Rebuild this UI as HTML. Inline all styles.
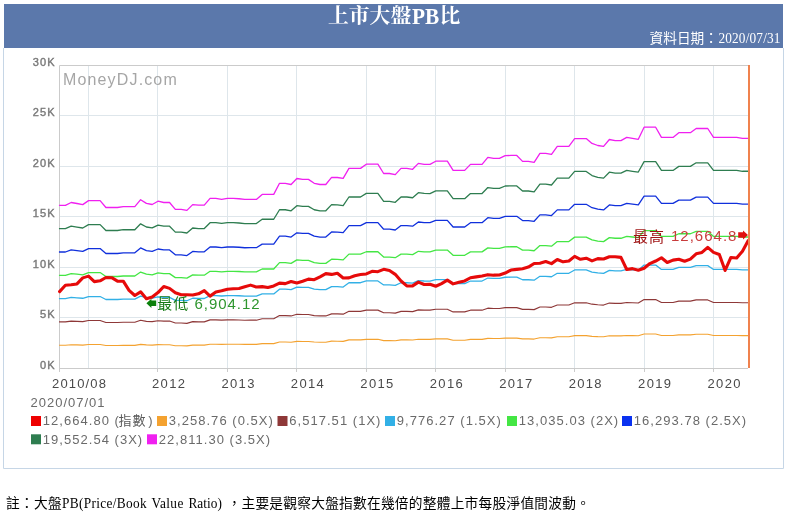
<!DOCTYPE html>
<html><head><meta charset="utf-8"><title>PB</title>
<style>
html,body{margin:0;padding:0;background:#fff;width:789px;height:514px;overflow:hidden}
svg text{font-family:"Liberation Sans","Noto Sans CJK TC",sans-serif}
svg text.sf{font-family:"Liberation Serif","Noto Sans CJK TC",serif}
svg text.tf{font-family:"Liberation Serif","Noto Serif CJK SC",serif}
</style></head><body>
<svg width="789" height="514" viewBox="0 0 789 514" style="position:absolute;left:0;top:0;will-change:transform">
<rect x="4" y="4" width="779" height="44" fill="#5b78ab"/>
<path d="M3.5 48V468.5H783.5V48" fill="none" stroke="#c6d6e6" stroke-width="1"/>
<path d="M59 115.5H749M59 166.5H749M59 216.5H749M59 267.5H749M59 317.5H749M88.5 65V368M157.5 65V368M227.5 65V368M296.5 65V368M366.5 65V368M435.5 65V368M505.5 65V368M574.5 65V368M644.5 65V368M713.5 65V368" fill="none" stroke="#dee6eb" stroke-width="1"/>
<path d="M59.5 372V65.5H748M59 368.5H748" fill="none" stroke="#cbcbcb" stroke-width="1"/>
<path d="M157.5 368V372M227.5 368V372M296.5 368V372M366.5 368V372M435.5 368V372M505.5 368V372M574.5 368V372M644.5 368V372M713.5 368V372" fill="none" stroke="#cbcbcb" stroke-width="1"/>
<text x="63" y="84.7" font-size="16" fill="#a6a6a6" letter-spacing="1.15">MoneyDJ.com</text>
<polyline points="59.6,345.2 65.39,345.2 71.17,344.79 76.96,344.93 82.75,345.09 88.53,344.51 94.32,344.51 100.11,344.51 105.9,345.5 111.68,345.5 117.47,345.5 123.26,345.37 129.04,345.37 134.83,345.37 140.62,344.39 146.41,344.91 152.19,345.07 157.98,344.6 163.77,344.79 169.55,344.79 175.34,345.77 181.13,345.77 186.91,345.91 192.7,345.09 198.49,345.17 204.28,345.17 210.06,344.2 215.85,344.2 221.64,344.33 227.42,344.2 233.21,344.2 239,344.25 244.78,344.35 250.57,344.34 256.36,344.34 262.14,343.63 267.93,343.63 273.72,343.63 279.51,342.04 285.29,342.04 291.08,342.21 296.87,341.36 302.65,341.49 308.44,341.49 314.23,342.04 320.02,342.21 325.8,342.21 331.59,341.19 337.38,341.21 343.16,341.34 348.95,339.91 354.74,339.91 360.52,339.91 366.31,339.31 372.1,339.31 377.88,339.31 383.67,340.64 389.46,340.64 395.25,340.8 401.03,339.91 406.82,339.91 412.61,340.04 418.39,339.2 424.18,339.33 429.97,339.34 435.75,338.89 441.54,338.89 447.33,338.89 453.12,340.2 458.9,340.2 464.69,340.2 470.48,339.34 476.26,339.34 482.05,339.34 487.84,338.34 493.62,338.49 499.41,338.49 505.2,338.09 510.99,338.06 516.77,338.06 522.56,338.91 528.35,338.91 534.13,339.06 539.92,337.77 545.71,337.77 551.5,337.91 557.28,336.77 563.07,336.77 568.86,336.77 574.64,335.66 580.43,335.66 586.22,335.66 592,336.34 597.79,336.64 603.58,336.78 609.37,335.79 615.15,335.94 620.94,335.94 626.73,335.49 632.51,335.63 638.3,335.76 644.09,334.03 649.87,334.03 655.66,334.03 661.45,335.49 667.24,335.49 673.02,335.49 678.81,334.81 684.6,334.81 690.38,334.81 696.17,334.21 701.96,334.21 707.74,334.21 713.53,335.49 719.32,335.49 725.11,335.49 730.89,335.49 736.68,335.49 742.47,335.63 748.25,335.63" fill="none" stroke="#f4a230" stroke-width="1.15" stroke-linejoin="round" stroke-linecap="square"/>
<polyline points="59.6,321.9 65.39,321.9 71.17,321.07 76.96,321.36 82.75,321.67 88.53,320.53 94.32,320.53 100.11,320.53 105.9,322.5 111.68,322.5 117.47,322.5 123.26,322.24 129.04,322.24 134.83,322.24 140.62,320.27 146.41,321.33 152.19,321.64 157.98,320.7 163.77,321.07 169.55,321.07 175.34,323.04 181.13,323.04 186.91,323.33 192.7,321.67 198.49,321.84 204.28,321.84 210.06,319.9 215.85,319.9 221.64,320.16 227.42,319.9 233.21,319.9 239,320 244.78,320.2 250.57,320.19 256.36,320.19 262.14,318.76 267.93,318.76 273.72,318.76 279.51,315.59 285.29,315.59 291.08,315.93 296.87,314.21 302.65,314.47 308.44,314.47 314.23,315.59 320.02,315.93 325.8,315.93 331.59,313.89 337.38,313.93 343.16,314.19 348.95,311.33 354.74,311.33 360.52,311.33 366.31,310.13 372.1,310.13 377.88,310.13 383.67,312.79 389.46,312.79 395.25,313.1 401.03,311.33 406.82,311.33 412.61,311.59 418.39,309.9 424.18,310.16 429.97,310.19 435.75,309.27 441.54,309.27 447.33,309.27 453.12,311.9 458.9,311.9 464.69,311.9 470.48,310.19 476.26,310.19 482.05,310.19 487.84,308.19 493.62,308.47 499.41,308.47 505.2,307.67 510.99,307.63 516.77,307.63 522.56,309.33 528.35,309.33 534.13,309.61 539.92,307.04 545.71,307.04 551.5,307.33 557.28,305.04 563.07,305.04 568.86,305.04 574.64,302.81 580.43,302.81 586.22,302.81 592,304.19 597.79,304.79 603.58,305.06 609.37,303.07 615.15,303.39 620.94,303.39 626.73,302.47 632.51,302.76 638.3,303.01 644.09,299.56 649.87,299.56 655.66,299.56 661.45,302.47 667.24,302.47 673.02,302.47 678.81,301.13 684.6,301.13 690.38,301.13 696.17,299.93 701.96,299.93 707.74,299.93 713.53,302.47 719.32,302.47 725.11,302.47 730.89,302.47 736.68,302.47 742.47,302.76 748.25,302.76" fill="none" stroke="#8e3838" stroke-width="1.15" stroke-linejoin="round" stroke-linecap="square"/>
<polyline points="59.6,298.6 65.39,298.6 71.17,297.36 76.96,297.79 82.75,298.26 88.53,296.54 94.32,296.54 100.11,296.54 105.9,299.5 111.68,299.5 117.47,299.5 123.26,299.11 129.04,299.11 134.83,299.11 140.62,296.16 146.41,297.74 152.19,298.21 157.98,296.8 163.77,297.36 169.55,297.36 175.34,300.31 181.13,300.31 186.91,300.74 192.7,298.26 198.49,298.51 204.28,298.51 210.06,295.6 215.85,295.6 221.64,295.99 227.42,295.6 233.21,295.6 239,295.75 244.78,296.05 250.57,296.03 256.36,296.03 262.14,293.89 267.93,293.89 273.72,293.89 279.51,289.13 285.29,289.13 291.08,289.64 296.87,287.07 302.65,287.46 308.44,287.46 314.23,289.13 320.02,289.64 325.8,289.64 331.59,286.58 337.38,286.64 343.16,287.03 348.95,282.74 354.74,282.74 360.52,282.74 366.31,280.94 372.1,280.94 377.88,280.94 383.67,284.93 389.46,284.93 395.25,285.4 401.03,282.74 406.82,282.74 412.61,283.13 418.39,280.6 424.18,280.99 429.97,281.03 435.75,279.66 441.54,279.66 447.33,279.66 453.12,283.6 458.9,283.6 464.69,283.6 470.48,281.03 476.26,281.03 482.05,281.03 487.84,278.03 493.62,278.46 499.41,278.46 505.2,277.26 510.99,277.19 516.77,277.19 522.56,279.74 528.35,279.74 534.13,280.17 539.92,276.31 545.71,276.31 551.5,276.74 557.28,273.31 563.07,273.31 568.86,273.31 574.64,269.97 580.43,269.97 586.22,269.97 592,272.03 597.79,272.93 603.58,273.34 609.37,270.36 615.15,270.83 620.94,270.83 626.73,269.46 632.51,269.89 638.3,270.27 644.09,265.09 649.87,265.09 655.66,265.09 661.45,269.46 667.24,269.46 673.02,269.46 678.81,267.44 684.6,267.44 690.38,267.44 696.17,265.64 701.96,265.64 707.74,265.64 713.53,269.46 719.32,269.46 725.11,269.46 730.89,269.46 736.68,269.46 742.47,269.89 748.25,269.89" fill="none" stroke="#32b0e6" stroke-width="1.3" stroke-linejoin="round" stroke-linecap="square"/>
<polyline points="59.6,275.3 65.39,275.3 71.17,273.64 76.96,274.21 82.75,274.84 88.53,272.56 94.32,272.56 100.11,272.56 105.9,276.5 111.68,276.5 117.47,276.5 123.26,275.99 129.04,275.99 134.83,275.99 140.62,272.04 146.41,274.16 152.19,274.79 157.98,272.9 163.77,273.64 169.55,273.64 175.34,277.59 181.13,277.59 186.91,278.16 192.7,274.84 198.49,275.19 204.28,275.19 210.06,271.3 215.85,271.3 221.64,271.81 227.42,271.3 233.21,271.3 239,271.5 244.78,271.9 250.57,271.87 256.36,271.87 262.14,269.01 267.93,269.01 273.72,269.01 279.51,262.67 285.29,262.67 291.08,263.36 296.87,259.93 302.65,260.44 308.44,260.44 314.23,262.67 320.02,263.36 325.8,263.36 331.59,259.27 337.38,259.36 343.16,259.87 348.95,254.16 354.74,254.16 360.52,254.16 366.31,251.76 372.1,251.76 377.88,251.76 383.67,257.07 389.46,257.07 395.25,257.7 401.03,254.16 406.82,254.16 412.61,254.67 418.39,251.3 424.18,251.81 429.97,251.87 435.75,250.04 441.54,250.04 447.33,250.04 453.12,255.3 458.9,255.3 464.69,255.3 470.48,251.87 476.26,251.87 482.05,251.87 487.84,247.87 493.62,248.44 499.41,248.44 505.2,246.84 510.99,246.76 516.77,246.76 522.56,250.16 528.35,250.16 534.13,250.73 539.92,245.59 545.71,245.59 551.5,246.16 557.28,241.59 563.07,241.59 568.86,241.59 574.64,237.13 580.43,237.13 586.22,237.13 592,239.87 597.79,241.07 603.58,241.61 609.37,237.64 615.15,238.27 620.94,238.27 626.73,236.44 632.51,237.01 638.3,237.53 644.09,230.61 649.87,230.61 655.66,230.61 661.45,236.44 667.24,236.44 673.02,236.44 678.81,233.76 684.6,233.76 690.38,233.76 696.17,231.36 701.96,231.36 707.74,231.36 713.53,236.44 719.32,236.44 725.11,236.44 730.89,236.44 736.68,236.44 742.47,237.01 748.25,237.01" fill="none" stroke="#44e644" stroke-width="1.3" stroke-linejoin="round" stroke-linecap="square"/>
<polyline points="59.6,252 65.39,252 71.17,249.93 76.96,250.64 82.75,251.43 88.53,248.57 94.32,248.57 100.11,248.57 105.9,253.5 111.68,253.5 117.47,253.5 123.26,252.86 129.04,252.86 134.83,252.86 140.62,247.93 146.41,250.57 152.19,251.36 157.98,249 163.77,249.93 169.55,249.93 175.34,254.86 181.13,254.86 186.91,255.57 192.7,251.43 198.49,251.86 204.28,251.86 210.06,247 215.85,247 221.64,247.64 227.42,247 233.21,247 239,247.25 244.78,247.75 250.57,247.71 256.36,247.71 262.14,244.14 267.93,244.14 273.72,244.14 279.51,236.21 285.29,236.21 291.08,237.07 296.87,232.79 302.65,233.43 308.44,233.43 314.23,236.21 320.02,237.07 325.8,237.07 331.59,231.96 337.38,232.07 343.16,232.71 348.95,225.57 354.74,225.57 360.52,225.57 366.31,222.57 372.1,222.57 377.88,222.57 383.67,229.21 389.46,229.21 395.25,230 401.03,225.57 406.82,225.57 412.61,226.21 418.39,222 424.18,222.64 429.97,222.71 435.75,220.43 441.54,220.43 447.33,220.43 453.12,227 458.9,227 464.69,227 470.48,222.71 476.26,222.71 482.05,222.71 487.84,217.71 493.62,218.43 499.41,218.43 505.2,216.43 510.99,216.32 516.77,216.32 522.56,220.57 528.35,220.57 534.13,221.29 539.92,214.86 545.71,214.86 551.5,215.57 557.28,209.86 563.07,209.86 568.86,209.86 574.64,204.29 580.43,204.29 586.22,204.29 592,207.71 597.79,209.21 603.58,209.89 609.37,204.93 615.15,205.71 620.94,205.71 626.73,203.43 632.51,204.14 638.3,204.79 644.09,196.14 649.87,196.14 655.66,196.14 661.45,203.43 667.24,203.43 673.02,203.43 678.81,200.07 684.6,200.07 690.38,200.07 696.17,197.07 701.96,197.07 707.74,197.07 713.53,203.43 719.32,203.43 725.11,203.43 730.89,203.43 736.68,203.43 742.47,204.14 748.25,204.14" fill="none" stroke="#1030dc" stroke-width="1.3" stroke-linejoin="round" stroke-linecap="square"/>
<polyline points="59.6,228.7 65.39,228.7 71.17,226.21 76.96,227.07 82.75,228.01 88.53,224.59 94.32,224.59 100.11,224.59 105.9,230.5 111.68,230.5 117.47,230.5 123.26,229.73 129.04,229.73 134.83,229.73 140.62,223.81 146.41,226.99 152.19,227.93 157.98,225.1 163.77,226.21 169.55,226.21 175.34,232.13 181.13,232.13 186.91,232.99 192.7,228.01 198.49,228.53 204.28,228.53 210.06,222.7 215.85,222.7 221.64,223.47 227.42,222.7 233.21,222.7 239,223 244.78,223.6 250.57,223.56 256.36,223.56 262.14,219.27 267.93,219.27 273.72,219.27 279.51,209.76 285.29,209.76 291.08,210.79 296.87,205.64 302.65,206.41 308.44,206.41 314.23,209.76 320.02,210.79 325.8,210.79 331.59,204.66 337.38,204.79 343.16,205.56 348.95,196.99 354.74,196.99 360.52,196.99 366.31,193.39 372.1,193.39 377.88,193.39 383.67,201.36 389.46,201.36 395.25,202.3 401.03,196.99 406.82,196.99 412.61,197.76 418.39,192.7 424.18,193.47 429.97,193.56 435.75,190.81 441.54,190.81 447.33,190.81 453.12,198.7 458.9,198.7 464.69,198.7 470.48,193.56 476.26,193.56 482.05,193.56 487.84,187.56 493.62,188.41 499.41,188.41 505.2,186.01 510.99,185.89 516.77,185.89 522.56,190.99 528.35,190.99 534.13,191.84 539.92,184.13 545.71,184.13 551.5,184.99 557.28,178.13 563.07,178.13 568.86,178.13 574.64,171.44 580.43,171.44 586.22,171.44 592,175.56 597.79,177.36 603.58,178.17 609.37,172.21 615.15,173.16 620.94,173.16 626.73,170.41 632.51,171.27 638.3,172.04 644.09,161.67 649.87,161.67 655.66,161.67 661.45,170.41 667.24,170.41 673.02,170.41 678.81,166.39 684.6,166.39 690.38,166.39 696.17,162.79 701.96,162.79 707.74,162.79 713.53,170.41 719.32,170.41 725.11,170.41 730.89,170.41 736.68,170.41 742.47,171.27 748.25,171.27" fill="none" stroke="#2e7d50" stroke-width="1.3" stroke-linejoin="round" stroke-linecap="square"/>
<polyline points="59.6,205.4 65.39,205.4 71.17,202.5 76.96,203.5 82.75,204.6 88.53,200.6 94.32,200.6 100.11,200.6 105.9,207.5 111.68,207.5 117.47,207.5 123.26,206.6 129.04,206.6 134.83,206.6 140.62,199.7 146.41,203.4 152.19,204.5 157.98,201.2 163.77,202.5 169.55,202.5 175.34,209.4 181.13,209.4 186.91,210.4 192.7,204.6 198.49,205.2 204.28,205.2 210.06,198.4 215.85,198.4 221.64,199.3 227.42,198.4 233.21,198.4 239,198.75 244.78,199.45 250.57,199.4 256.36,199.4 262.14,194.4 267.93,194.4 273.72,194.4 279.51,183.3 285.29,183.3 291.08,184.5 296.87,178.5 302.65,179.4 308.44,179.4 314.23,183.3 320.02,184.5 325.8,184.5 331.59,177.35 337.38,177.5 343.16,178.4 348.95,168.4 354.74,168.4 360.52,168.4 366.31,164.2 372.1,164.2 377.88,164.2 383.67,173.5 389.46,173.5 395.25,174.6 401.03,168.4 406.82,168.4 412.61,169.3 418.39,163.4 424.18,164.3 429.97,164.4 435.75,161.2 441.54,161.2 447.33,161.2 453.12,170.4 458.9,170.4 464.69,170.4 470.48,164.4 476.26,164.4 482.05,164.4 487.84,157.4 493.62,158.4 499.41,158.4 505.2,155.6 510.99,155.45 516.77,155.45 522.56,161.4 528.35,161.4 534.13,162.4 539.92,153.4 545.71,153.4 551.5,154.4 557.28,146.4 563.07,146.4 568.86,146.4 574.64,138.6 580.43,138.6 586.22,138.6 592,143.4 597.79,145.5 603.58,146.45 609.37,139.5 615.15,140.6 620.94,140.6 626.73,137.4 632.51,138.4 638.3,139.3 644.09,127.2 649.87,127.2 655.66,127.2 661.45,137.4 667.24,137.4 673.02,137.4 678.81,132.7 684.6,132.7 690.38,132.7 696.17,128.5 701.96,128.5 707.74,128.5 713.53,137.4 719.32,137.4 725.11,137.4 730.89,137.4 736.68,137.4 742.47,138.4 748.25,138.4" fill="none" stroke="#f020f0" stroke-width="1.3" stroke-linejoin="round" stroke-linecap="square"/>
<polyline points="59.6,291.58 65.39,285.3 71.17,284.8 76.96,283.94 82.75,277.88 88.53,276.13 94.32,281.64 100.11,280.8 105.9,277.52 111.68,277.71 117.47,281.11 123.26,281.19 129.04,290.31 134.83,295.52 140.62,291.86 146.41,298.77 152.19,297.07 157.98,292.58 163.77,286.47 169.55,288.38 175.34,292.73 181.13,294.75 186.91,294.81 192.7,295.07 198.49,293.79 204.28,290.58 210.06,296.12 215.85,291.94 221.64,290.74 227.42,289.21 233.21,288.73 239,288.52 244.78,286.75 250.57,285.13 256.36,287.07 262.14,286.61 267.93,287.48 273.72,285.94 279.51,283.15 285.29,283.59 291.08,281.52 296.87,283.03 302.65,281.24 308.44,279.12 314.23,279.71 320.02,276.83 325.8,273.63 331.59,274.41 337.38,273.19 343.16,277.93 348.95,277.85 354.74,275.71 360.52,274.5 366.31,273.94 372.1,271.32 377.88,271.68 383.67,269.32 389.46,270.52 395.25,274.34 401.03,280.98 406.82,285.93 412.61,285.87 418.39,282.1 424.18,284.46 429.97,284.29 435.75,286.23 441.54,283.55 447.33,280.18 453.12,283.88 458.9,282.29 464.69,280.97 470.48,277.76 476.26,276.9 482.05,275.91 487.84,274.67 493.62,275.17 499.41,275.04 505.2,273.08 510.99,270.02 516.77,269.4 522.56,268.79 528.35,267.09 534.13,263.51 539.92,263.18 545.71,261.58 551.5,263.62 557.28,259.48 563.07,261.84 568.86,261.01 574.64,256.35 580.43,259.26 586.22,258.21 592,260.86 597.79,258.66 603.58,259.05 609.37,256.82 615.15,256.75 620.94,257.34 626.73,269.5 632.51,268.63 638.3,270.25 644.09,268.18 649.87,263.57 655.66,261.03 661.45,257.73 667.24,262.47 673.02,260.12 678.81,259.18 684.6,261.26 690.38,259.12 696.17,253.78 701.96,252.46 707.74,247.33 713.53,252.4 719.32,254.45 725.11,270.45 730.89,257.48 736.68,257.98 742.47,251.13 748.25,240.59" fill="none" stroke="#e60a0a" stroke-width="3.1" stroke-linejoin="round" stroke-linecap="round"/>
<rect x="748" y="65" width="2" height="303" fill="#f0824e"/>
<text x="55.6" y="65.5" font-size="11" fill="#7a7a7a" stroke="#7a7a7a" stroke-width="0.4" text-anchor="end" letter-spacing="1.1">30K</text>
<text x="55.6" y="115.5" font-size="11" fill="#7a7a7a" stroke="#7a7a7a" stroke-width="0.4" text-anchor="end" letter-spacing="1.1">25K</text>
<text x="55.6" y="166.5" font-size="11" fill="#7a7a7a" stroke="#7a7a7a" stroke-width="0.4" text-anchor="end" letter-spacing="1.1">20K</text>
<text x="55.6" y="216.5" font-size="11" fill="#7a7a7a" stroke="#7a7a7a" stroke-width="0.4" text-anchor="end" letter-spacing="1.1">15K</text>
<text x="55.6" y="267.5" font-size="11" fill="#7a7a7a" stroke="#7a7a7a" stroke-width="0.4" text-anchor="end" letter-spacing="1.1">10K</text>
<text x="55.6" y="317.5" font-size="11" fill="#7a7a7a" stroke="#7a7a7a" stroke-width="0.4" text-anchor="end" letter-spacing="1.1">5K</text>
<text x="55.6" y="368.5" font-size="11" fill="#7a7a7a" stroke="#7a7a7a" stroke-width="0.4" text-anchor="end" letter-spacing="1.1">0K</text>
<text x="52" y="387.5" font-size="13" fill="#4a4a4a" letter-spacing="1.15">2010/08</text>
<text x="151.98" y="387.5" font-size="13" fill="#4a4a4a" letter-spacing="1.35">2012</text>
<text x="221.42" y="387.5" font-size="13" fill="#4a4a4a" letter-spacing="1.35">2013</text>
<text x="290.87" y="387.5" font-size="13" fill="#4a4a4a" letter-spacing="1.35">2014</text>
<text x="360.31" y="387.5" font-size="13" fill="#4a4a4a" letter-spacing="1.35">2015</text>
<text x="429.75" y="387.5" font-size="13" fill="#4a4a4a" letter-spacing="1.35">2016</text>
<text x="499.2" y="387.5" font-size="13" fill="#4a4a4a" letter-spacing="1.35">2017</text>
<text x="568.64" y="387.5" font-size="13" fill="#4a4a4a" letter-spacing="1.35">2018</text>
<text x="638.09" y="387.5" font-size="13" fill="#4a4a4a" letter-spacing="1.35">2019</text>
<text x="707.53" y="387.5" font-size="13" fill="#4a4a4a" letter-spacing="1.35">2020</text>
<text x="30.5" y="406.7" font-size="13" fill="#6a6a6a" letter-spacing="1">2020/07/01</text>
<rect x="31" y="416" width="10" height="10" fill="#ee0000"/>
<text x="42.8" y="425.3" font-size="13" fill="#6a6a6a" letter-spacing="1.03">12,664.80 (</text>
<rect x="157" y="416" width="10" height="10" fill="#f4a230"/>
<text x="168.8" y="425.3" font-size="13" fill="#6a6a6a" letter-spacing="1.03">3,258.76 (0.5X)</text>
<rect x="277.5" y="416" width="10" height="10" fill="#8e3838"/>
<text x="289.3" y="425.3" font-size="13" fill="#6a6a6a" letter-spacing="1.03">6,517.51 (1X)</text>
<rect x="385" y="416" width="10" height="10" fill="#32b0e6"/>
<text x="396.8" y="425.3" font-size="13" fill="#6a6a6a" letter-spacing="1.03">9,776.27 (1.5X)</text>
<rect x="507" y="416" width="10" height="10" fill="#44e644"/>
<text x="518.8" y="425.3" font-size="13" fill="#6a6a6a" letter-spacing="1.03">13,035.03 (2X)</text>
<rect x="622" y="416" width="10" height="10" fill="#0a32f0"/>
<text x="633.8" y="425.3" font-size="13" fill="#6a6a6a" letter-spacing="1.03">16,293.78 (2.5X)</text>
<rect x="31" y="434.3" width="10" height="10" fill="#2e7d50"/>
<text x="42.8" y="443.6" font-size="13" fill="#6a6a6a" letter-spacing="1.03">19,552.54 (3X)</text>
<rect x="147" y="434.3" width="10" height="10" fill="#f020f0"/>
<text x="158.8" y="443.6" font-size="13" fill="#6a6a6a" letter-spacing="1.03">22,811.30 (3.5X)</text>
<text x="118.5" y="425.3" font-size="13" fill="#5c5c5c" letter-spacing="1.03">指數</text>
<text x="148.3" y="425.3" font-size="13" fill="#6a6a6a">)</text>
<text x="633" y="241.6" font-size="15" fill="#a01616" letter-spacing="1">最高</text>
<text x="671" y="241.4" font-size="15" fill="#c83c3c" letter-spacing="1">12,664.8</text>
<path d="M738.2 232.2H743V230.4L748 235L743 239.6V237.8H738.2Z" fill="#e01010"/>
<path d="M156.2 300.4H151.4V298.7L146.4 303.3L151.4 307.9V306.1H156.2Z" fill="#0a800a"/>
<text x="157.3" y="309.4" font-size="15" fill="#167a16" letter-spacing="1">最低</text>
<text x="194.5" y="308.8" font-size="15" fill="#2e962e" letter-spacing="0.95">6,904.12</text>
<text x="328" y="23.3" font-size="20.8" font-weight="bold" fill="#fff" class="tf">上市大盤</text>
<text transform="translate(412,23.9) scale(1,1.1)" font-size="21.33" font-weight="bold" fill="#fff" class="sf">PB</text>
<text x="439.6" y="23.3" font-size="20.8" font-weight="bold" fill="#fff" class="tf">比</text>
<text x="649.5" y="43" font-size="13.7" fill="#fff" class="sf">資料日期：</text>
<text transform="translate(780.6,43) scale(1,1.12)" font-size="13.33" fill="#fff" letter-spacing="0.15" text-anchor="end" class="sf">2020/07/31</text>
<text x="6" y="507.8" font-size="13.7" fill="#000" letter-spacing="0.3" class="sf">註：大盤</text>
<text transform="translate(62,507.6) scale(1,1.1)" font-size="13.33" fill="#000" letter-spacing="0.33" class="sf">PB(Price/Book</text>
<text transform="translate(151.4,507.6) scale(1,1.1)" font-size="13.33" fill="#000" letter-spacing="0.4" class="sf">Value</text>
<text transform="translate(188.4,507.6) scale(1,1.1)" font-size="13.33" fill="#000" letter-spacing="0.05" class="sf">Ratio)</text>
<text x="227.5" y="507.8" font-size="13.7" fill="#000" letter-spacing="0.26" class="sf">，主要是觀察大盤指數在幾倍的整體上市每股淨值間波動。</text>
</svg>
</body></html>
